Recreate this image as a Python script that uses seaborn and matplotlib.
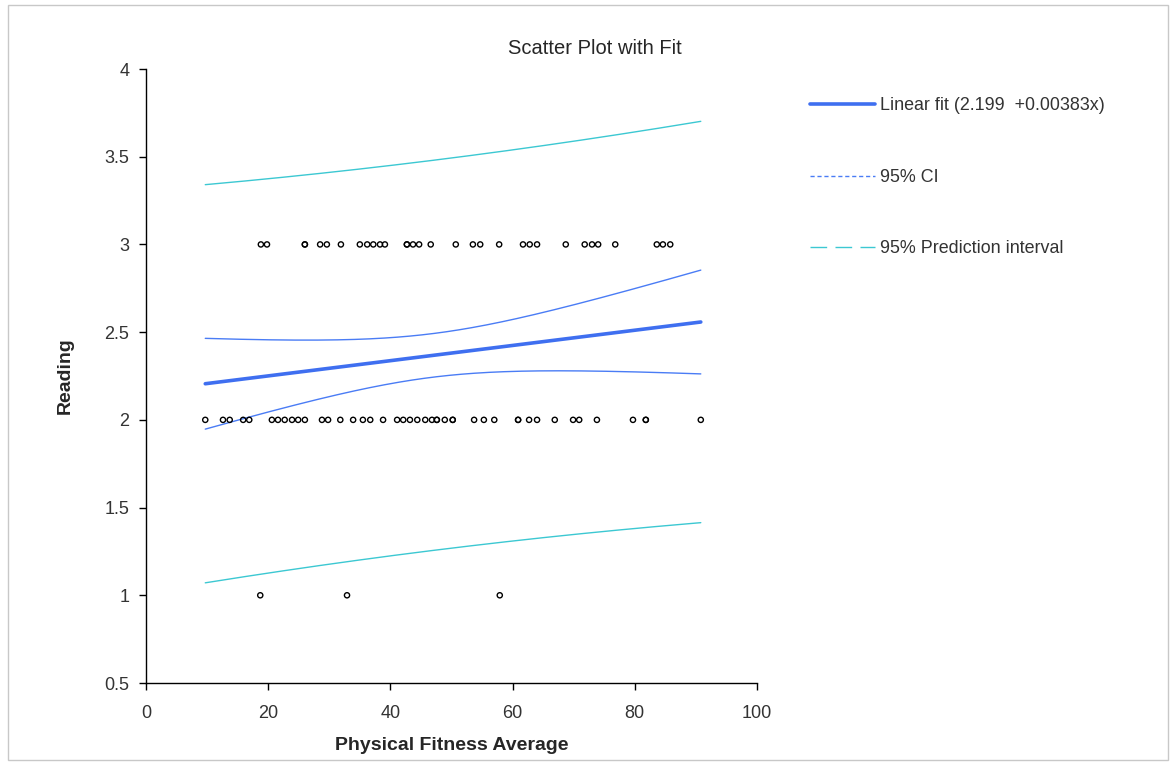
import numpy as np
import pandas as pd
import matplotlib
matplotlib.use("Agg")
import matplotlib.pyplot as plt
from matplotlib.lines import Line2D
from matplotlib.patches import Rectangle
import seaborn as sns

# ---- data ----
x_reading3 = [18.8, 19.8, 26.0, 26.0, 28.5, 29.6, 31.9, 35.0, 36.2, 37.2, 38.3, 39.1,
              42.7, 42.7, 43.7, 44.7, 46.6, 50.7, 53.5, 54.7, 57.8, 61.7, 62.8, 64.0,
              68.7, 71.8, 73.0, 74.0, 76.8, 83.6, 84.6, 85.8]
x_reading2 = [9.7, 12.6, 13.7, 15.9, 16.9, 20.6, 21.6, 22.7, 23.9, 24.9, 26.0, 28.8,
              29.8, 31.8, 33.9, 35.5, 36.7, 38.8, 41.1, 42.1, 43.2, 44.4, 45.7, 46.8,
              47.6, 47.6, 48.9, 50.2, 50.2, 53.7, 55.3, 57.0, 60.9, 60.9, 62.7, 64.0,
              66.9, 69.9, 70.9, 73.8, 79.7, 81.8, 81.8, 90.8]
x_reading1 = [18.7, 32.9, 57.9]

fit_label = "Linear fit (2.199  +0.00383x)"
ci_label = "95% CI"
pi_label = "95% Prediction interval"
title = "Scatter Plot with Fit"
x_label = "Physical Fitness Average"
y_label = "Reading"
x_ticks = [0, 20, 40, 60, 80, 100]
y_ticks = [0.5, 1, 1.5, 2, 2.5, 3, 3.5, 4]

df = pd.DataFrame({
    "x": x_reading3 + x_reading2 + x_reading1,
    "y": [3] * len(x_reading3) + [2] * len(x_reading2) + [1] * len(x_reading1),
})

# ---- OLS fit with confidence / prediction bands ----
x = df["x"].to_numpy(float)
y = df["y"].to_numpy(float)
n = len(x)
b1, b0 = np.polyfit(x, y, 1)
resid = y - (b0 + b1 * x)
s = np.sqrt(np.sum(resid ** 2) / (n - 2))
xbar = x.mean()
sxx = np.sum((x - xbar) ** 2)
t = 1.99
xg = np.linspace(x.min(), x.max(), 200)
yg = b0 + b1 * xg
se_m = s * np.sqrt(1 / n + (xg - xbar) ** 2 / sxx)
se_p = s * np.sqrt(1 + 1 / n + (xg - xbar) ** 2 / sxx)
bands = pd.DataFrame({"x": xg, "fit": yg,
                      "ci_lo": yg - t * se_m, "ci_hi": yg + t * se_m,
                      "pi_lo": yg - t * se_p, "pi_hi": yg + t * se_p})

# ---- styling ----
sns.set_style("white")
plt.rcParams["font.family"] = ["Liberation Sans", "DejaVu Sans"]

fig = plt.figure(figsize=(11.7, 7.63), dpi=100)
fig.patches.append(Rectangle((8 / 1170, 3 / 763), 1160 / 1170, 755 / 763,
                             transform=fig.transFigure, fill=False,
                             edgecolor="#c8c8c8", linewidth=1))
ax = fig.add_axes([146 / 1170, 1 - 683 / 763, (757 - 146) / 1170, (683 - 69) / 763])

fit_c = "#3f6ff0"
ci_c = "#4a7cf5"
pi_c = "#3cc8d2"

sns.lineplot(data=bands, x="x", y="pi_hi", ax=ax, color=pi_c, lw=1, sort=False)
sns.lineplot(data=bands, x="x", y="pi_lo", ax=ax, color=pi_c, lw=1, sort=False)
sns.lineplot(data=bands, x="x", y="ci_hi", ax=ax, color=ci_c, lw=1, sort=False)
sns.lineplot(data=bands, x="x", y="ci_lo", ax=ax, color=ci_c, lw=1, sort=False)
sns.lineplot(data=bands, x="x", y="fit", ax=ax, color=fit_c, lw=2.6, sort=False)
sns.scatterplot(data=df, x="x", y="y", ax=ax, s=14, facecolor="none",
                edgecolor="black", linewidth=1, zorder=5)

ax.set_xlim(0, 100)
ax.set_ylim(0.5, 4)
ax.set_xticks(x_ticks)
ax.set_yticks(y_ticks)
ax.set_xticklabels([str(v) for v in x_ticks])
ax.set_yticklabels([f"{v:g}" for v in y_ticks])
ax.tick_params(axis="both", direction="out", length=5, width=1, colors="black",
               labelsize=13, labelcolor="#333333", left=True, bottom=True)
ax.tick_params(axis="x", pad=11)
ax.tick_params(axis="y", pad=7)
for sp in ["top", "right"]:
    ax.spines[sp].set_visible(False)
for sp in ["left", "bottom"]:
    ax.spines[sp].set_color("black")
    ax.spines[sp].set_linewidth(1)
ax.set_xlabel(x_label, fontsize=14, fontweight="bold", labelpad=11)
ax.set_ylabel(y_label, fontsize=14, fontweight="bold", labelpad=22)
fig.text(595 / 1170, 1 - 48 / 763, title, ha="center", va="center", fontsize=14.5)

handles = [Line2D([], [], color=fit_c, lw=2.6),
           Line2D([], [], color=ci_c, lw=1, ls=(0, (3, 2))),
           Line2D([], [], color=pi_c, lw=1, ls=(0, (12, 6)))]
leg = fig.legend(handles, [fit_label, ci_label, pi_label],
                 loc="upper left", bbox_to_anchor=(794 / 1170, 1 - 81 / 763),
                 frameon=False, fontsize=12.9, handlelength=3.6, handletextpad=0.28,
                 labelspacing=3.05)
for txt in leg.get_texts():
    txt.set_color("#333333")

fig.savefig("out.png", dpi=100)
